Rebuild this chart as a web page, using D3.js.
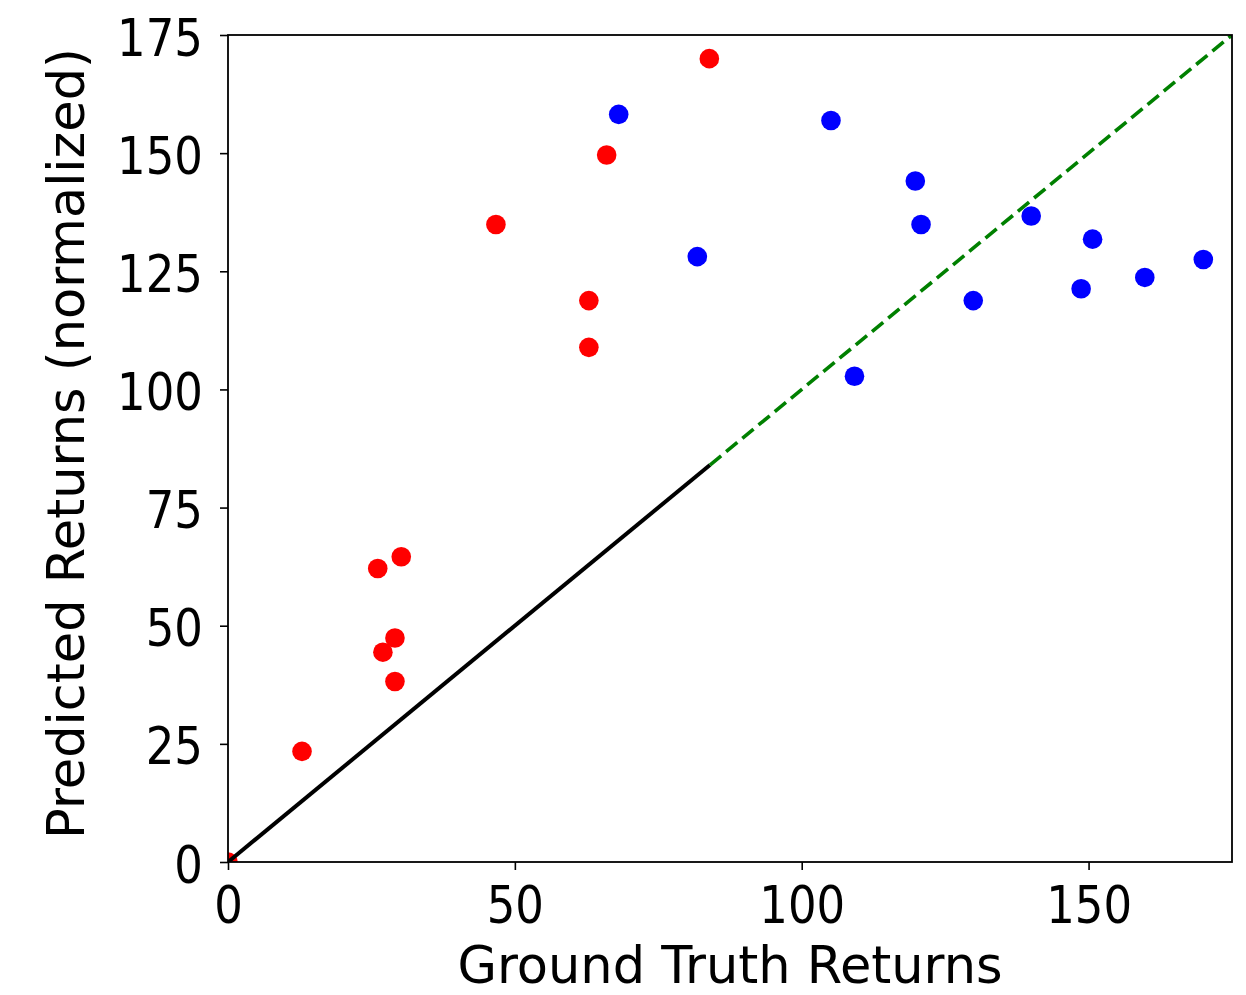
<!DOCTYPE html>
<html>
<head>
<meta charset="utf-8">
<script src="https://cdn.jsdelivr.net/npm/d3@7"></script>
<style>
  body { margin: 0; background: #fff; }
  text { font-family: 'DejaVu Sans', sans-serif; fill: #000; }
</style>
</head>
<body>
<div id="chart"></div>
<script>
// Red points: ground truth vs predicted (first group)
let redTruth = [0, 12.9, 26.1, 30.2, 27.0, 29.1, 29.1, 46.7, 62.9, 62.9, 66.0, 83.9]
let redPred = [0, 23.4, 62.1, 64.6, 44.4, 47.4, 38.2, 134.9, 118.8, 108.9, 149.6, 170.0]

// Blue points (second group)
let blueTruth = [68.1, 81.8, 105.1, 109.2, 119.8, 120.8, 129.9, 140.0, 148.7, 150.7, 159.8, 170.0]
let bluePred = [158.2, 128.1, 156.9, 102.8, 144.1, 134.9, 118.8, 136.7, 121.3, 131.8, 123.7, 127.5]

// y = x reference: solid up to the split, dashed after
let solidLine = [0, 84]
let dashedLine = [84, 175]

let xTicks = [0, 50, 100, 150]
let yTicks = [0, 25, 50, 75, 100, 125, 150, 175]

let margin = { top: 35, right: 14, bottom: 133, left: 228 }
let width = 1246 - margin.left - margin.right
let height = 995 - margin.top - margin.bottom

let svg = d3.select('#chart')
  .append('svg')
  .attr('width', 1246)
  .attr('height', 995)

let g = svg.append('g')
  .attr('transform', 'translate(' + margin.left + ',' + margin.top + ')')

let xScale = d3.scaleLinear().domain([0, 175]).range([0, width])
let yScale = d3.scaleLinear().domain([0, 175]).range([height, 0])

g.append('clipPath')
  .attr('id', 'plot-clip')
  .append('rect')
  .attr('width', width)
  .attr('height', height)

let plot = g.append('g').attr('clip-path', 'url(#plot-clip)')

let red = redTruth.map((d, i) => ({ x: d, y: redPred[i] }))
let blue = blueTruth.map((d, i) => ({ x: d, y: bluePred[i] }))

plot.selectAll('.red-dot')
  .data(red)
  .enter().append('circle')
  .attr('class', 'red-dot')
  .attr('cx', d => xScale(d.x))
  .attr('cy', d => yScale(d.y))
  .attr('r', 9.8)
  .attr('fill', '#ff0000')

plot.selectAll('.blue-dot')
  .data(blue)
  .enter().append('circle')
  .attr('class', 'blue-dot')
  .attr('cx', d => xScale(d.x))
  .attr('cy', d => yScale(d.y))
  .attr('r', 9.8)
  .attr('fill', '#0000ff')

let line = d3.line().x(d => xScale(d)).y(d => yScale(d))

plot.append('path')
  .datum(solidLine)
  .attr('d', line)
  .attr('fill', 'none')
  .attr('stroke', '#000')
  .attr('stroke-width', 4)

plot.append('path')
  .datum(dashedLine)
  .attr('d', line)
  .attr('fill', 'none')
  .attr('stroke', '#008000')
  .attr('stroke-width', 3.6)
  .attr('stroke-dasharray', '14.5,6.5')

// axes
let xAxis = d3.axisBottom(xScale).tickValues(xTicks).tickSize(8).tickSizeOuter(0)
let yAxis = d3.axisLeft(yScale).tickValues(yTicks).tickSize(8).tickSizeOuter(0)

let xg = g.append('g')
  .attr('transform', 'translate(0,' + height + ')')
  .call(xAxis)
let yg = g.append('g').call(yAxis)

xg.select('.domain').remove()
yg.select('.domain').remove()

g.selectAll('.tick line').attr('stroke', '#000').attr('stroke-width', 1.6)

xg.selectAll('.tick text')
  .attr('y', 0)
  .attr('dy', null)
  .attr('font-size', 45)
  .attr('font-family', 'DejaVu Sans')
  .attr('transform', 'translate(0,61) scale(1,1.15)')

yg.selectAll('.tick text')
  .attr('x', 0)
  .attr('dy', null)
  .attr('font-size', 45)
  .attr('font-family', 'DejaVu Sans')
  .attr('transform', 'translate(-25,20) scale(1,1.15)')

// frame
g.append('rect')
  .attr('width', width)
  .attr('height', height)
  .attr('fill', 'none')
  .attr('stroke', '#000')
  .attr('stroke-width', 1.8)

svg.append('text')
  .attr('x', margin.left + width / 2)
  .attr('y', 983)
  .attr('text-anchor', 'middle')
  .attr('font-size', 51)
  .text('Ground Truth Returns')

svg.append('text')
  .attr('transform', 'translate(84,' + (margin.top + height / 2 - 5) + ') rotate(-90)')
  .attr('text-anchor', 'middle')
  .attr('font-size', 51)
  .text('Predicted Returns (normalized)')
</script>
</body>
</html>
